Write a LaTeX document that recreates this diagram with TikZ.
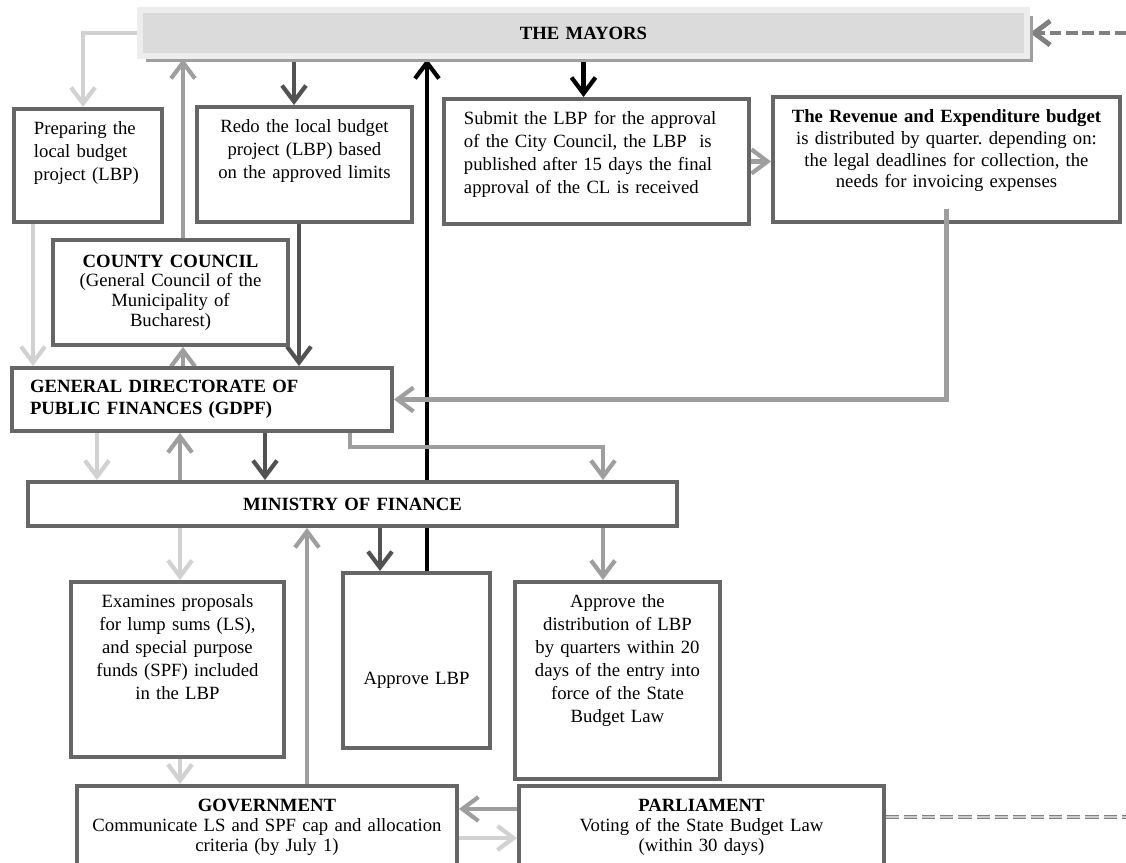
\documentclass[tikz,border=0pt]{standalone}
\usepackage{fontspec}
\setmainfont{Liberation Serif}
\usetikzlibrary{arrows.meta, backgrounds, shadows}
\frenchspacing

\definecolor{boxline}{gray}{0.4}
\definecolor{darkarrow}{gray}{0.32}
\definecolor{midarrow}{gray}{0.62}
\definecolor{lightarrow}{gray}{0.82}

\begin{document}
\begin{tikzpicture}[>={Straight Barb[length=4mm,width=6mm]},
  font=\fontsize{13.3pt}{16.4pt}\selectfont,
  box/.style={draw=boxline, line width=2.8pt, fill=white, inner xsep=0.15cm, inner ysep=0.3cm, align=center},
  topbox/.style={box, anchor=north west, text height=0.33cm},
  flow/.style={->, line width=3pt}]

  \useasboundingbox (0,0) rectangle (28.15,-21.575);

  % Mayors
  \node[box, draw=gray!14, fill=gray!28, line width=4.3pt, text width=21.875cm, minimum height=1.15cm,
        drop shadow={shadow xshift=0.15cm, shadow yshift=-0.15cm, fill=gray!75, opacity=1}]
    (mayors) at (14.5875,-0.825) {\textbf{THE MAYORS}};

  % Top row
  \node[topbox, inner xsep=0.5cm, align=left, text width=2.7cm, text depth=1.895cm] (prep) at (0.3,-2.675)
    {Preparing the\\ local budget\\ project (LBP)};
  \node[topbox, text width=5.075cm, text depth=1.945cm] (redo) at (4.875,-2.625)
    {Redo the local budget\\ project (LBP) based\\ on the approved limits};
  \node[topbox, inner xsep=0.5cm, align=left, text width=6.625cm, text depth=2.195cm] (submit) at (11.05,-2.425)
    {Submit the LBP for the approval\\ of the City Council, the LBP~ is\\ published after 15 days the final\\ approval of the CL is received};
  \node[topbox, text width=8.375cm, text depth=2.195cm,
        font=\fontsize{13.3pt}{15.6pt}\selectfont] (revenue) at (19.275,-2.375)
    {\textbf{The Revenue and Expenditure budget}\\ is distributed by quarter. depending on:\\ the legal deadlines for collection, the\\ needs for invoicing expenses};

  % County council, GDPF, ministry
  \node[box, text width=5.575cm, minimum height=2.625cm,
        font=\fontsize{13.3pt}{14pt}\selectfont] (county) at (4.2625,-7.3125)
    {\textbf{COUNTY COUNCIL}\\ (General Council of the\\ Municipality of\\ Bucharest)};
  \node[box, inner xsep=0.45cm, align=left, text width=8.6cm, minimum height=1.575cm,
        font=\fontsize{13.3pt}{15.6pt}\selectfont] (gdpf) at (5.05,-9.9875)
    {\textbf{GENERAL DIRECTORATE OF}\\ \textbf{PUBLIC FINANCES (GDPF)}};
  \node[box, text width=15.925cm, minimum height=1.1cm] (mof) at (8.8125,-12.6) {\textbf{MINISTRY OF FINANCE}};

  % Lower boxes
  \node[topbox, text width=5.025cm, text depth=3.445cm] (exam) at (1.725,-14.5)
    {Examines proposals\\ for lump sums (LS),\\ and special purpose\\ funds (SPF) included\\ in the LBP};
  \node[box, text width=3.375cm, minimum height=4.375cm] (approve) at (10.4125,-16.5125)
    {\raisebox{-0.6cm}[0pt][0pt]{Approve LBP}};
  \node[topbox, text width=4.825cm, text depth=3.995cm] (dist) at (12.825,-14.5)
    {Approve the\\ distribution of LBP\\ by quarters within 20\\ days of the entry into\\ force of the State\\ Budget Law};
  \node[topbox, text width=9.2cm, text depth=1.47cm,
        font=\fontsize{13.3pt}{14.4pt}\selectfont] (gov) at (1.875,-19.6)
    {\textbf{GOVERNMENT}\\ Communicate LS and SPF cap and allocation\\ criteria (by July 1)};
  \node[topbox, text width=8.825cm, text depth=1.47cm,
        font=\fontsize{13.3pt}{14.4pt}\selectfont] (parl) at (12.925,-19.6)
    {\textbf{PARLIAMENT}\\ Voting of the State Budget Law\\ (within 30 days)};

  % Guides for the connectors
  \coordinate (c1) at (2.075,0);   % mayors -> preparing
  \coordinate (c2) at (4.575,0);   % county <-> mayors, gdpf
  \coordinate (c3) at (7.35,0);    % mayors -> redo
  \coordinate (c4) at (7.475,0);   % redo -> gdpf
  \coordinate (c5) at (0.825,0);   % preparing -> gdpf
  \coordinate (c6) at (2.425,0);
  \coordinate (c7) at (4.5,0);
  \coordinate (c8) at (6.625,0);
  \coordinate (c9) at (7.675,0);   % government -> ministry
  \coordinate (c10) at (9.5,0);
  \coordinate (c11) at (10.675,0); % approve -> mayors
  \coordinate (c12) at (15.075,0);
  \coordinate (c13) at (8.75,0);
  \coordinate (split) at (15.075,-11.175);
  \coordinate (r2) at (0,-20.225);
  \coordinate (r3) at (0,-20.95);
  \coordinate (mayorsin) at (28.15,-0.825);
  \coordinate (parlout) at (28.15,-20.425);

  \begin{scope}[on background layer]
    % Mayors
    \draw[flow, lightarrow] (mayors.west) -| (c1 |- prep.north);
    \draw[flow, midarrow] (c2 |- county.north) -- (c2 |- mayors.south);
    \draw[flow, darkarrow] (c3 |- mayors.south) -- (c3 |- redo.north);
    \draw[flow, black] (mayors.south) -- (mayors.south |- submit.north);
    \draw[flow, black] (c11 |- approve.north) -- (c11 |- mayors.south);
    \draw[flow, gray, line width=3.5pt, dash pattern=on 8pt off 3.5pt] (mayorsin) -- (mayors.east);

    % Top row to GDPF
    \draw[flow, midarrow] (submit.east) -- (submit.east -| revenue.west);
    \draw[flow, lightarrow] (c5 |- prep.south) -- (c5 |- gdpf.north);
    \draw[flow, darkarrow] (c4 |- redo.south) -- (c4 |- gdpf.north);
    \draw[flow, midarrow] (c2 |- gdpf.north) -- (c2 |- county.south);

    % GDPF and ministry
    \draw[flow, lightarrow] (c6 |- gdpf.south) -- (c6 |- mof.north);
    \draw[flow, midarrow] (c7 |- mof.north) -- (c7 |- gdpf.south);
    \draw[flow, darkarrow] (c8 |- gdpf.south) -- (c8 |- mof.north);
    \draw[flow, midarrow] (c13 |- gdpf.south) |- (split) -- (split |- mof.north);

    % Ministry to lower boxes
    \draw[flow, darkarrow] (c10 |- mof.south) -- (c10 |- approve.north);
    \draw[flow, midarrow] (c12 |- mof.south) -- (c12 |- dist.north);
    \draw[flow, lightarrow] (c7 |- mof.south) -- (c7 |- exam.north);
    \draw[flow, lightarrow] (c7 |- exam.south) -- (c7 |- gov.north);
    \draw[flow, midarrow] (c9 |- gov.north) -- (c9 |- mof.south);

    % Government and parliament
    \draw[flow, midarrow] (r2 -| parl.west) -- (r2 -| gov.east);
    \draw[flow, lightarrow] (r3 -| gov.east) -- (r3 -| parl.west);
    \draw[draw=gray, double=gray!40, double distance=1.2pt, line width=0.8pt,
          dash pattern=on 9.3pt off 3.6pt] (parlout -| parl.east) -- (parlout);
  \end{scope}

  % Revenue back to GDPF
  \draw[flow, midarrow] ([yshift=0.375cm]revenue.south) |- (gdpf.east);

\end{tikzpicture}
\end{document}
